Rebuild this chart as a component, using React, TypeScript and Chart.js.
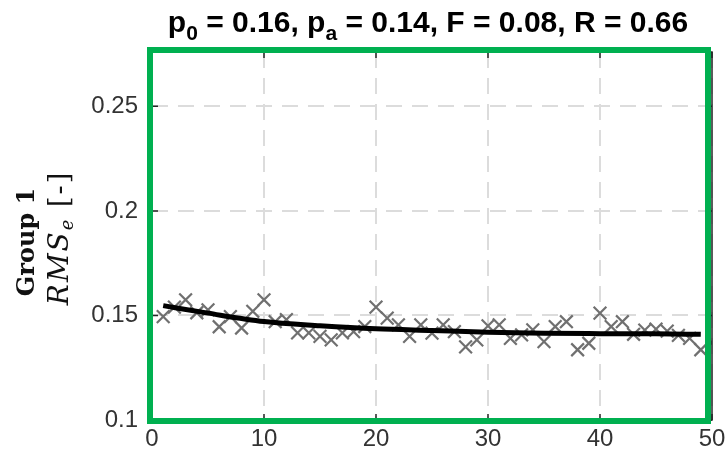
import React, { useEffect, useRef } from "react";
import { Chart, registerables } from "chart.js";

Chart.register(...registerables);

// ---- data ----
const trialIndex = [
  1, 2, 3, 4, 5, 6, 7, 8, 9, 10,
  11, 12, 13, 14, 15, 16, 17, 18, 19, 20,
  21, 22, 23, 24, 25, 26, 27, 28, 29, 30,
  31, 32, 33, 34, 35, 36, 37, 38, 39, 40,
  41, 42, 43, 44, 45, 46, 47, 48, 49, 50,
];
const rmsValues = [
  0.1494, 0.154, 0.1575, 0.1513, 0.1527, 0.1446, 0.1494, 0.144, 0.152, 0.1575,
  0.147, 0.148, 0.1417, 0.1417, 0.14, 0.1383, 0.1417, 0.1423, 0.1447, 0.154,
  0.1487, 0.1455, 0.14, 0.1455, 0.1415, 0.1455, 0.1423, 0.135, 0.1383, 0.145,
  0.1455, 0.139, 0.1407, 0.1431, 0.1375, 0.1447, 0.147, 0.1336, 0.1367, 0.1511,
  0.1447, 0.147, 0.141, 0.143, 0.1435, 0.1425, 0.1405, 0.139, 0.1336, 0.137,
];
const fitX = [1, 5, 10, 15, 20, 25, 30, 35, 40, 45, 49];
const fitY = [0.1547, 0.1511, 0.1471, 0.1451, 0.1436, 0.1428, 0.142, 0.1415, 0.1413, 0.1412, 0.141];
const xTicks = [0, 10, 20, 30, 40, 50];
const yTicks = [0.1, 0.15, 0.2, 0.25];
const yTickLabels = ["0.1", "0.15", "0.2", "0.25"];
const xMin = 0;
const xMax = 50;
const yMin = 0.1;
const yMax = 0.276;
const titleParts = [
  { text: "p", sub: false },
  { text: "0", sub: true },
  { text: " = 0.16, p", sub: false },
  { text: "a", sub: true },
  { text: " = 0.14, F = 0.08, R = 0.66", sub: false },
];
const groupLabel = "Group 1";
const measureName = "RMS";
const measureSub = "e";
const measureUnit = " [-]";

const GREEN = "rgb(0,176,80)";
const AXIS = "#262626";

const decorPlugin = {
  id: "decor",
  afterDraw(chart: any) {
    const { ctx, chartArea } = chart;
    const { left, right, top, bottom } = chartArea;
    const xs = chart.scales.x;
    const ys = chart.scales.y;
    ctx.save();
    // axis box
    ctx.strokeStyle = AXIS;
    ctx.lineWidth = 1.5;
    ctx.strokeRect(left, top, right - left, bottom - top);
    // tick marks (inward)
    ctx.beginPath();
    xTicks.forEach((v) => {
      const px = xs.getPixelForValue(v);
      ctx.moveTo(px, bottom);
      ctx.lineTo(px, bottom - 6);
      ctx.moveTo(px, top);
      ctx.lineTo(px, top + 6);
    });
    yTicks.forEach((v) => {
      const py = ys.getPixelForValue(v);
      ctx.moveTo(left, py);
      ctx.lineTo(left + 6, py);
      ctx.moveTo(right, py);
      ctx.lineTo(right - 6, py);
    });
    ctx.stroke();
    // green frame
    ctx.strokeStyle = GREEN;
    ctx.lineWidth = 6;
    ctx.strokeRect(left - 2, top - 2, right - 4 - (left - 2), bottom + 1 - (top - 2));

    // title with subscripts
    const mainFont = "bold 30px 'Liberation Sans', Arial, sans-serif";
    const subFont = "bold 21px 'Liberation Sans', Arial, sans-serif";
    ctx.fillStyle = "#000";
    ctx.textBaseline = "alphabetic";
    ctx.textAlign = "left";
    let total = 0;
    titleParts.forEach((p) => {
      ctx.font = p.sub ? subFont : mainFont;
      total += ctx.measureText(p.text).width;
    });
    let tx = 428 - total / 2;
    titleParts.forEach((p) => {
      ctx.font = p.sub ? subFont : mainFont;
      ctx.fillText(p.text, tx, p.sub ? 40 : 32);
      tx += ctx.measureText(p.text).width;
    });

    // y-axis labels (rotated)
    ctx.fillStyle = "#111";
    ctx.save();
    ctx.translate(28, 242);
    ctx.rotate(-Math.PI / 2);
    ctx.font = "bold 24px 'DejaVu Serif', serif";
    ctx.textAlign = "center";
    ctx.textBaseline = "middle";
    ctx.fillText(groupLabel, 0, 0);
    ctx.restore();

    ctx.save();
    ctx.translate(61, 238);
    ctx.rotate(-Math.PI / 2);
    ctx.textAlign = "left";
    ctx.textBaseline = "middle";
    try {
      (ctx as any).letterSpacing = "2px";
    } catch (e) {}
    const f1 = "italic 28px 'DejaVu Serif', serif";
    const f2 = "italic 18px 'DejaVu Serif', serif";
    const f3 = "27px 'DejaVu Serif', serif";
    ctx.font = f1;
    const w1 = ctx.measureText(measureName).width;
    ctx.font = f2;
    const w2 = ctx.measureText(measureSub).width;
    ctx.font = f3;
    const w3 = ctx.measureText(measureUnit).width;
    let lx = -(w1 + w2 + w3) / 2;
    ctx.font = f1;
    ctx.fillText(measureName, lx, 0);
    lx += w1;
    ctx.font = f2;
    ctx.fillText(measureSub, lx, 7);
    lx += w2;
    ctx.font = f3;
    ctx.fillText(measureUnit, lx, 0);
    ctx.restore();

    ctx.restore();
  },
};

export default function App() {
  const canvasRef = useRef<HTMLCanvasElement | null>(null);

  useEffect(() => {
    document.body.style.margin = "0";
    const canvas = canvasRef.current;
    if (!canvas) return;
    const chart = new Chart(canvas, {
      type: "scatter",
      data: {
        datasets: [
          {
            type: "line",
            label: "fit",
            data: fitX.map((x, i) => ({ x, y: fitY[i] })),
            borderColor: "#000",
            borderWidth: 5,
            pointRadius: 0,
            cubicInterpolationMode: "monotone",
            fill: false,
          } as any,
          {
            type: "scatter",
            label: "RMS",
            data: trialIndex.map((x, i) => ({ x, y: rmsValues[i] })),
            pointStyle: "crossRot",
            pointRadius: 9,
            borderWidth: 2.2,
            borderColor: "rgb(112,112,112)",
            backgroundColor: "rgb(112,112,112)",
          } as any,
        ],
      },
      options: {
        animation: false,
        responsive: false,
        layout: { padding: { top: 52, right: 15, left: 0, bottom: 0 } },
        plugins: {
          legend: { display: false },
          title: { display: false },
          tooltip: { enabled: false },
        },
        scales: {
          x: {
            type: "linear",
            min: xMin,
            max: xMax,
            afterBuildTicks: (s: any) => {
              s.ticks = xTicks.map((v) => ({ value: v }));
            },
            afterFit: (s: any) => {
              s.height = 41;
              s.paddingLeft = 0;
              s.paddingRight = 0;
            },
            ticks: {
              font: { size: 24, family: "'Liberation Sans', Arial, sans-serif" },
              color: "#333",
              padding: 5,
              maxRotation: 0,
              callback: (v: any) => String(v),
            },
            grid: {
              color: "#dcdcdc",
              lineWidth: 2,
              drawTicks: false,
            },
            border: { display: false, dash: [16, 10] },
          },
          y: {
            type: "linear",
            min: yMin,
            max: yMax,
            afterBuildTicks: (s: any) => {
              s.ticks = yTicks.map((v) => ({ value: v }));
            },
            afterFit: (s: any) => {
              s.width = 152;
              s.paddingTop = 0;
              s.paddingBottom = 0;
            },
            ticks: {
              font: { size: 24, family: "'Liberation Sans', Arial, sans-serif" },
              color: "#333",
              padding: 14,
              callback: (v: any) => {
                const i = yTicks.indexOf(v);
                return i >= 0 ? yTickLabels[i] : "";
              },
            },
            grid: {
              color: "#dcdcdc",
              lineWidth: 2,
              drawTicks: false,
            },
            border: { display: false, dash: [16, 10] },
          },
        },
      },
      plugins: [decorPlugin],
    });
    return () => chart.destroy();
  }, []);

  return (
    <div style={{ width: 727, height: 461, background: "#fff" }}>
      <canvas ref={canvasRef} width={727} height={461} />
    </div>
  );
}
